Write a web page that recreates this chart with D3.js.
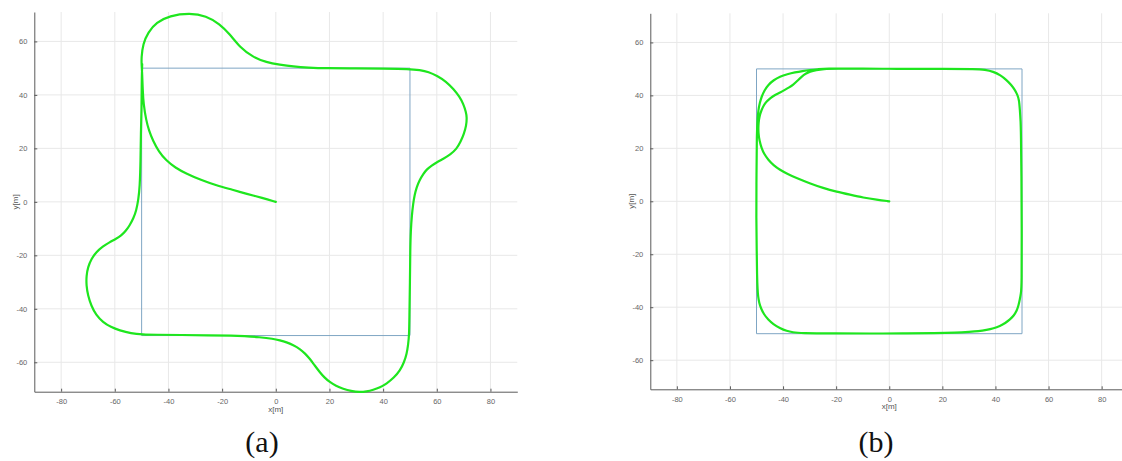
<!DOCTYPE html>
<html>
<head>
<meta charset="utf-8">
<script src="https://cdn.jsdelivr.net/npm/d3@7"></script>
<style>
  html, body { margin: 0; padding: 0; background: #fff; }
  svg { display: block; }
  .tick text { font-family: "Liberation Sans", Arial, sans-serif; font-size: 7.5px; fill: #666; }
  .axlabel { font-family: "Liberation Sans", Arial, sans-serif; font-size: 8px; fill: #555; }
  .caption { font-family: "Liberation Serif", "DejaVu Serif", serif; font-size: 30px; fill: #111; }
</style>
</head>
<body>
<svg id="chart" width="1122" height="461"></svg>
<script>
// Axis ticks and limits shared by both panels
const xTicks = [-80, -60, -40, -20, 0, 20, 40, 60, 80];
const yTicks = [-60, -40, -20, 0, 20, 40, 60];
const xLimits = [-90, 90];
const yLimits = [-71, 71];

// Reference square track (corners, closed)
const refSquare = [[-50, -50], [50, -50], [50, 50], [-50, 50], [-50, -50]];

// Vehicle trajectory, controller (a): [x, y] in metres
const trajectoryA = [
  [0, 0], [-5, 1.5], [-10.9, 3], [-16, 4.5], [-22.1, 6.1], [-28, 8.2], [-33.3, 10.5],
  [-37.5, 12.8], [-40.8, 15.4], [-43.6, 18.8], [-45.8, 22.9], [-47.3, 26.8], [-48.3, 30.4],
  [-49.3, 36.6], [-49.6, 42], [-49.8, 48], [-50, 51],
  [-50.1, 53.9], [-49.5, 59.1], [-47.6, 63.4], [-44.5, 67.1], [-39.6, 69.6], [-32.1, 70.6],
  [-25.9, 69.6], [-20.9, 66.5], [-17.2, 62.8], [-13.4, 57.8], [-8.5, 54.1], [-3.5, 52.2],
  [1.5, 51.3], [6.5, 50.6], [12, 50.2], [18.9, 49.95], [30, 49.9], [40, 49.8], [49.7, 49.7],
  [53.7, 49.3], [57, 48.6], [60, 47.2], [63.5, 45], [66.2, 42.2], [68.5, 39.3], [69.9, 36.6],
  [70.9, 33.5], [71.2, 31.6], [71, 28.5], [70.1, 25.4], [68.9, 22.5], [67.4, 19.8], [65, 17.6],
  [62.4, 16.1], [60, 14.8], [58.1, 13.6], [56.3, 12.2], [55, 10.5], [53.5, 8], [52.5, 5.5],
  [51.7, 2.5], [51.2, -0.7], [50.7, -5], [50.3, -10.7], [50.1, -18], [50, -30], [49.8, -42],
  [49.7, -50],
  [49.3, -53.5], [48.8, -56.8], [47.8, -60], [46.3, -63.1], [44, -65.8], [41.3, -68],
  [38.8, -69.4], [36.3, -70.3], [33.8, -70.9], [31.3, -71.2], [28, -70.8], [25.1, -69.9],
  [22.4, -68.8], [20.1, -67.4], [18.1, -65.7], [16.4, -63.7], [14.5, -61.2], [12.7, -58.7],
  [10.9, -56.7], [9, -55], [6.5, -53.6], [4, -52.5], [1.5, -51.8], [-1, -51.2], [-6, -50.6],
  [-12, -50.2], [-15.9, -50], [-25, -49.9], [-35, -49.8], [-45, -49.7], [-49.5, -49.6],
  [-54, -49.2], [-58.2, -48.1], [-61.5, -46.8], [-64.4, -45], [-67, -42.3], [-68.8, -38.8],
  [-70, -35], [-70.6, -31.3], [-70.6, -27.7], [-70, -24.4], [-68.7, -21.3], [-66.9, -18.8],
  [-64.5, -16.7], [-61.9, -15.1], [-59.7, -13.9], [-57.6, -12.6], [-55.9, -10.8], [-54.5, -8.9],
  [-53, -6], [-52, -3.3], [-51.2, 1], [-50.7, 5.5], [-50.4, 15], [-50.3, 25.4], [-50, 35],
  [-50, 44.1], [-49.8, 51.5]
];

// Vehicle trajectory, controller (b): [x, y] in metres
const trajectoryB = [
  [0, 0], [-4.7, 0.6], [-9.8, 1.4], [-14.8, 2.5], [-19.8, 3.6], [-24.9, 5], [-30, 6.8],
  [-34.9, 8.8], [-38.3, 10.3], [-41.2, 11.9], [-43.6, 13.6], [-45.6, 15.7], [-47.1, 17.8],
  [-48.1, 20.1], [-48.9, 23], [-49.3, 25.8], [-49.3, 28.5], [-49.1, 30.8], [-48.7, 32.7],
  [-48.1, 34.5], [-47.3, 36.2], [-46.2, 37.7], [-44.8, 39], [-43, 40.2], [-41.1, 41.1],
  [-39.3, 42.1], [-37.7, 43], [-36.2, 44], [-34.6, 45.5], [-33, 47.1], [-31.5, 48.2],
  [-29.9, 49], [-27.5, 49.6], [-24.9, 50], [-20, 50.1], [-10, 50.1], [0, 50.05], [10, 50],
  [20, 50], [32.9, 50], [36, 49.7], [39.2, 49], [41.9, 47.6], [44.2, 45.8], [46, 43.9],
  [47.3, 42.1], [48.3, 40.2], [48.9, 38.3], [49.2, 34.5], [49.5, 30], [49.6, 25.8],
  [49.8, 10], [49.9, -10], [49.9, -32], [49.6, -34.8], [49.2, -37], [48.7, -39.3], [48, -41.4],
  [46.9, -43.2], [45.5, -44.6], [43.7, -46], [41.7, -47.1], [39.3, -48], [36.7, -48.6],
  [33.5, -49.1], [30.4, -49.3], [25, -49.6], [17.9, -49.8], [5, -49.9], [-7.3, -49.95],
  [-20, -49.9], [-33.6, -49.8], [-36.3, -49.5], [-38.6, -49], [-41.2, -47.9], [-43.7, -46.4],
  [-45.6, -44.7], [-47.2, -42.7], [-48.3, -40.5], [-49, -38.3], [-49.4, -36], [-49.6, -33.3],
  [-49.8, -28], [-49.9, -19.4], [-50.1, -6.9], [-50, 10], [-49.9, 25.8], [-49.6, 31],
  [-49.3, 34.5], [-48.8, 37], [-48.1, 39.5], [-47, 41.9], [-45.6, 44], [-43.5, 45.8],
  [-41.2, 47.1], [-38.4, 48], [-35.5, 48.7], [-32.7, 49.2], [-29.9, 49.6], [-26.7, 49.9],
  [-23.6, 50.2], [-15, 50.1]
];

const panels = [
  { data: trajectoryA, caption: "(a)", xr: [34.3, 517.3], yr: [391.7, 12], cap: [262, 452] },
  { data: trajectoryB, caption: "(b)", xr: [650.3, 1128.2], yr: [389.3, 13.3], cap: [876, 452] }
];

// plain hyphen-minus for negative tick labels
const fmt = d => String(d);

const svg = d3.select("#chart");

panels.forEach(p => {
  const x = d3.scaleLinear().domain(xLimits).range(p.xr);
  const y = d3.scaleLinear().domain(yLimits).range(p.yr);
  const g = svg.append("g");

  // grid
  g.append("g").selectAll("line").data(xTicks).join("line")
    .attr("x1", d => x(d)).attr("x2", d => x(d))
    .attr("y1", p.yr[0]).attr("y2", p.yr[1])
    .attr("stroke", "#e8e8e8").attr("stroke-width", 1);
  g.append("g").selectAll("line").data(yTicks).join("line")
    .attr("y1", d => y(d)).attr("y2", d => y(d))
    .attr("x1", p.xr[0]).attr("x2", p.xr[1])
    .attr("stroke", "#e8e8e8").attr("stroke-width", 1);

  // axes (ticks point inward)
  const xAxis = d3.axisBottom(x).tickValues(xTicks).tickFormat(fmt)
    .tickSizeInner(-3).tickSizeOuter(0).tickPadding(7);
  const yAxis = d3.axisLeft(y).tickValues(yTicks).tickFormat(fmt)
    .tickSizeInner(-3).tickSizeOuter(0).tickPadding(7);
  const gx = g.append("g").attr("transform", `translate(0,${p.yr[0]})`).call(xAxis);
  const gy = g.append("g").attr("transform", `translate(${p.xr[0]},0)`).call(yAxis);
  [gx, gy].forEach(a => {
    a.select(".domain").attr("stroke", "#5a5a5a");
    a.selectAll(".tick line").attr("stroke", "#5a5a5a");
  });

  // axis labels
  g.append("text").attr("class", "axlabel")
    .attr("x", x(0)).attr("y", p.yr[0] + 20).attr("text-anchor", "middle").text("x[m]");
  g.append("text").attr("class", "axlabel")
    .attr("transform", `translate(${p.xr[0] - 16},${y(0)}) rotate(-90)`)
    .attr("text-anchor", "middle").text("y[m]");

  // reference square
  const straight = d3.line().x(d => x(d[0])).y(d => y(d[1]));
  g.append("path").datum(refSquare).attr("d", straight)
    .attr("fill", "none").attr("stroke", "#7fa6c4").attr("stroke-width", 1);

  // trajectory
  const smooth = d3.line().x(d => x(d[0])).y(d => y(d[1])).curve(d3.curveBasis);
  g.append("path").datum(p.data).attr("d", smooth)
    .attr("fill", "none").attr("stroke", "#1ee61e").attr("stroke-width", 2.2)
    .attr("stroke-linejoin", "round").attr("stroke-linecap", "round");

  // caption
  svg.append("text").attr("class", "caption")
    .attr("x", p.cap[0]).attr("y", p.cap[1]).attr("text-anchor", "middle").text(p.caption);
});
</script>
</body>
</html>
